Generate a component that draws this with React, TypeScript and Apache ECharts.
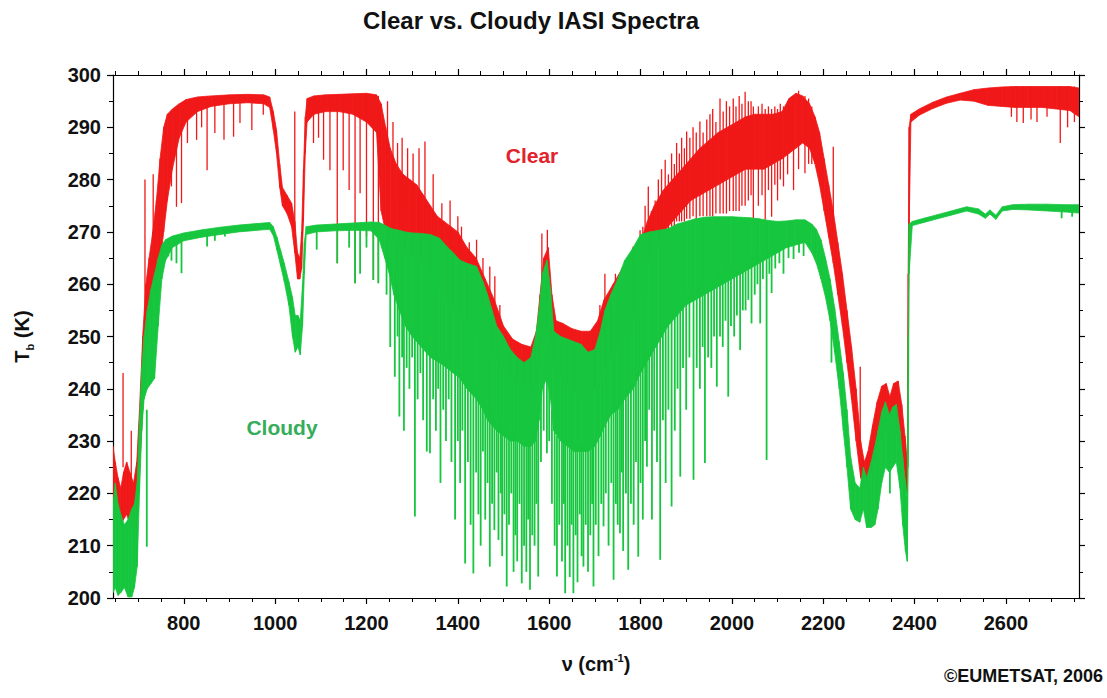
import React, { useEffect, useRef } from "react";
import * as echarts from "echarts";

// ---------- data ----------
const xMajorTicks = [800, 1000, 1200, 1400, 1600, 1800, 2000, 2200, 2400, 2600];
const xMinorTicks = [650, 700, 750, 850, 900, 950, 1050, 1100, 1150, 1250, 1300, 1350, 1450, 1500, 1550, 1650, 1700, 1750, 1850, 1900, 1950, 2050, 2100, 2150, 2250, 2300, 2350, 2450, 2500, 2550, 2650, 2700, 2750];

// Dense part of each spectrum: [wavenumber, upper Tb, lower Tb]
const clearBand: [number, number, number][] = [
  [645, 229, 216], [650, 226, 215], [656, 223, 216], [662, 221, 214], [668, 224, 215], [675, 226, 216],
  [682, 224, 214], [690, 222, 213], [697, 226, 215], [703, 236, 224], [710, 250, 236], [717, 260, 246],
  [724, 265, 252], [732, 270, 256], [740, 276, 260], [748, 284, 264], [756, 290, 270], [764, 292.5, 276],
  [775, 293.5, 282], [790, 294.5, 288], [805, 295.3, 291], [830, 295.8, 293], [860, 296, 294], [900, 296.2, 294.5],
  [940, 296.3, 294.7], [975, 296.2, 294.5], [988, 295.8, 293.8], [996, 293, 289.5], [1003, 289.5, 285],
  [1010, 283, 278.5], [1016, 278.5, 275], [1026, 277, 273.5], [1036, 275.5, 271], [1043, 272, 266],
  [1049, 266, 261], [1054, 265, 261], [1058, 270, 263], [1062, 282, 272], [1066, 292, 285], [1070, 295.5, 291],
  [1085, 296, 292.5], [1110, 296.2, 293], [1140, 296.3, 293], [1170, 296.4, 292.5], [1200, 296.5, 291],
  [1222, 296.2, 289], [1232, 294.5, 274], [1242, 290, 270], [1252, 286, 269], [1265, 283, 268], [1280, 281, 267],
  [1295, 280, 266], [1310, 279, 265], [1325, 277, 264], [1340, 275, 262], [1355, 273, 260], [1370, 272, 258],
  [1385, 271, 256], [1400, 270, 255], [1420, 267, 253], [1440, 265, 251], [1460, 261, 249], [1480, 257, 246],
  [1500, 252, 244], [1520, 249.5, 242], [1540, 248.5, 241], [1560, 248, 240], [1572, 251, 242], [1580, 258, 246],
  [1588, 265, 250], [1598, 267, 252], [1606, 258, 247], [1615, 253, 243], [1630, 252.5, 242], [1650, 251.5, 240],
  [1670, 251, 239], [1690, 251, 239], [1706, 253, 241], [1720, 257, 244], [1740, 260, 247], [1760, 263, 250],
  [1780, 265.5, 253], [1800, 268, 259], [1815, 272, 264], [1830, 275, 267], [1850, 278, 270], [1870, 280, 272],
  [1890, 282, 274], [1910, 284, 276], [1930, 286, 277], [1950, 287.5, 278], [1970, 289, 279], [1990, 290, 280],
  [2010, 291, 281], [2030, 292, 282], [2050, 292.5, 282], [2070, 292.5, 282], [2090, 292.5, 283], [2110, 293, 284],
  [2125, 295.5, 285], [2140, 296.5, 286], [2155, 296, 287], [2170, 294.5, 286], [2182, 292, 283], [2192, 289, 279],
  [2202, 284, 274], [2212, 279, 269], [2222, 274, 264], [2232, 268, 258], [2242, 262, 252], [2252, 255, 245],
  [2262, 248, 238], [2272, 240, 230], [2282, 230, 223], [2290, 226, 221], [2298, 228, 222], [2308, 233, 225],
  [2318, 237.5, 228], [2328, 240.5, 231], [2338, 241, 232], [2346, 238.5, 231], [2354, 241, 232], [2364, 241.5, 231],
  [2372, 237, 228], [2379, 231, 223], [2384, 226, 220], [2386, 262, 240], [2388, 290, 270], [2392, 292.5, 291],
  [2410, 293.5, 292.3], [2440, 294.8, 293.6], [2470, 295.8, 294.6], [2500, 296.5, 295.2], [2530, 297.2, 295],
  [2560, 297.5, 294.2], [2590, 297.7, 294], [2620, 297.8, 293.8], [2650, 297.8, 293.8], [2680, 297.8, 293.8],
  [2710, 297.8, 293.5], [2740, 297.8, 293.2], [2760, 297.5, 292],
];

// Individual absorption lines / peaks: [wavenumber, high Tb, low Tb]
const clearLines: [number, number, number][] = [
  [667, 243, 225], [685, 232, 222], [715, 280, 250], [733, 281, 262],
  [773, 292, 278.7], [784, 293, 274.8], [795, 294, 275.5], [808, 295, 287], [828, 295.5, 287.6], [839, 295.5, 290],
  [851, 296, 281.8], [868, 296, 288.9], [888, 296, 287.6], [909, 296, 288.2], [923, 296, 290.8], [949, 296, 289.5],
  [974, 296, 292.4], [1043, 293, 270],
  [1084, 296, 287], [1095, 296, 288], [1106, 296, 283.8], [1120, 296, 281.8], [1136, 296, 264], [1149, 296, 281.8],
  [1162, 296, 278], [1175, 296, 260.2], [1186, 296, 277.4], [1200, 296, 269.1], [1215, 296, 260.8], [1226, 296, 260.2],
  [1246, 295, 282], [1258, 291, 278], [1268, 287, 276], [1278, 288, 274], [1290, 286, 272], [1302, 285, 270],
  [1315, 286, 270], [1328, 287.3, 268], [1346, 281, 266], [1365, 275.5, 262], [1383, 276, 262], [1400, 273, 260],
  [1408, 271, 258], [1425, 268, 255], [1441, 268.5, 255], [1455, 265, 252], [1470, 263.4, 250], [1481, 261.5, 248],
  [1492, 256, 246], [1584, 269.7, 255], [1596, 270.4, 255],
  [1711, 256, 245], [1722, 262, 248], [1745, 262, 250], [1755, 261.5, 250], [1772, 265, 253], [1784, 267.2, 255],
  [1792, 266, 258], [1799, 270.3, 260], [1805, 271, 262], [1810, 275, 265], [1817, 278.7, 266], [1824, 274, 266],
  [1832, 276, 268], [1839, 280, 268], [1846, 282, 269], [1854, 283.8, 270], [1861, 281, 270], [1868, 285, 271],
  [1874, 283, 271], [1879, 287, 272], [1885, 285, 272], [1890, 288, 272], [1896, 286, 272], [1901, 289.2, 272.5],
  [1908, 288, 272.5], [1915, 290, 273], [1922, 289, 272.5], [1930, 291.1, 273], [1937, 289, 273], [1945, 291.5, 273],
  [1952, 292.5, 273], [1958, 293.5, 273], [1965, 291, 273.5], [1974, 295.5, 273.5], [1981, 293, 273.5],
  [1988, 295, 273.5], [1995, 294, 274], [2003, 295.5, 274], [2009, 294, 274], [2016, 296, 274], [2022, 294.5, 275],
  [2029, 296.8, 275], [2036, 295, 276], [2042, 295, 277],
  [2047, 294, 272.3], [2058, 294, 275], [2066, 294.5, 277], [2073, 293.5, 272.3], [2080, 294, 278],
  [2087, 293.5, 272.9], [2094, 294, 279], [2100, 293.5, 276], [2106, 294.5, 280], [2113, 294, 278.7],
  [2122, 295, 281], [2135, 296, 278], [2146, 297, 282], [2160, 296, 281.2], [2168, 295.5, 283], [2175, 294, 283],
  [2222, 286.3, 270], [2281, 244.2, 230],
  [2612, 297.8, 292], [2624, 297.8, 291], [2638, 297.8, 290.8], [2655, 297.8, 291.5], [2668, 297.8, 291],
  [2690, 297.8, 292], [2719, 297.8, 287], [2735, 297.8, 290], [2750, 297.8, 291],
];

const cloudyBand: [number, number, number][] = [
  [645, 218, 201], [650, 222, 202], [656, 218, 200.5], [662, 216, 201], [670, 214, 202], [678, 215, 200.2],
  [686, 217, 200.2], [692, 218, 202], [698, 222, 206], [703, 234, 220], [708, 244, 232], [713, 250, 238],
  [720, 255, 240], [728, 259, 241], [736, 262, 242], [744, 265, 252], [752, 267.5, 261], [760, 268.5, 264.5],
  [775, 269.2, 267], [800, 269.8, 268.3], [840, 270.4, 269], [880, 270.9, 269.5], [920, 271.3, 270],
  [960, 271.6, 270.3], [988, 271.8, 270.5], [996, 271, 269.3], [1004, 269, 266.5], [1012, 266.5, 263.5],
  [1020, 264, 260.5], [1030, 260.5, 256], [1038, 257.5, 250], [1044, 254, 247], [1050, 254, 248], [1055, 253, 246.5],
  [1060, 260, 252], [1064, 268, 262], [1068, 271, 269.5], [1090, 271.3, 270], [1130, 271.5, 270.2],
  [1170, 271.7, 270.3], [1210, 271.9, 270.2], [1228, 271.8, 268.5], [1240, 271.3, 265], [1250, 270.8, 262],
  [1260, 270.5, 258], [1272, 270.3, 255], [1285, 270, 252], [1300, 269.8, 250], [1320, 269.7, 248],
  [1340, 269.5, 246], [1360, 268.8, 245], [1376, 267.2, 244], [1390, 266, 243], [1405, 264.6, 242], [1420, 264, 240],
  [1441, 263.4, 238], [1455, 260.5, 236], [1465, 258, 234], [1475, 255, 233], [1485, 252, 232], [1500, 250, 231],
  [1515, 247.5, 230], [1530, 246, 230], [1545, 245, 229], [1560, 246, 229], [1570, 250, 230], [1578, 255, 234],
  [1585, 262, 240], [1595, 264.6, 242], [1603, 259, 238], [1610, 251, 232], [1625, 250, 230], [1640, 249.5, 229],
  [1655, 249, 228], [1670, 248.5, 228], [1685, 247, 228], [1700, 247.5, 229], [1712, 251, 231], [1722, 255, 233],
  [1735, 258, 235], [1750, 261, 236], [1765, 264.5, 238], [1784, 267, 240], [1800, 269.5, 243], [1820, 270, 246],
  [1840, 270.3, 249], [1860, 270.6, 252], [1880, 271.5, 254], [1900, 272, 256], [1920, 272.5, 257],
  [1940, 272.8, 258], [1960, 272.9, 259], [1980, 272.9, 260], [2000, 272.9, 261], [2020, 272.8, 262],
  [2040, 272.7, 263], [2060, 272.5, 264], [2080, 272.2, 265], [2100, 272, 266], [2120, 272.1, 267],
  [2140, 272.3, 267.5], [2160, 272.3, 268], [2175, 271.5, 266], [2185, 270.5, 264], [2195, 268.5, 261],
  [2205, 265, 257.5], [2215, 261, 253], [2225, 255.5, 247], [2235, 249, 240], [2244, 243, 232], [2252, 236, 225],
  [2260, 227, 217], [2270, 222, 215], [2280, 221, 214.5], [2288, 225, 217], [2295, 223, 213.5], [2305, 226, 213.5],
  [2313, 229, 214], [2320, 232, 217], [2328, 235.5, 222], [2336, 237.5, 225], [2345, 235, 224], [2352, 236.5, 225],
  [2360, 237, 226], [2368, 232, 221], [2374, 227, 214], [2380, 222, 209], [2384, 219, 207], [2386, 250, 225],
  [2388, 271.5, 262], [2395, 272, 271.2], [2420, 272.6, 271.8], [2450, 273.3, 272.5], [2480, 274, 273.2],
  [2514, 274.8, 274], [2540, 274.4, 273.4], [2555, 273.4, 272.6], [2565, 274.2, 273.4], [2578, 273.2, 272.4],
  [2592, 274.8, 274], [2615, 275.2, 274.3], [2650, 275.3, 274.2], [2690, 275.3, 274], [2730, 275.2, 273.8],
  [2760, 275.2, 273.6],
];

const cloudyLines: [number, number, number][] = [
  [719, 236, 209.8], [766, 268.5, 265.3], [773, 269, 264.5], [784, 269.2, 264], [795, 269.5, 262.1],
  [851, 270.3, 267.2], [868, 270.5, 268.3], [890, 270.8, 269.1],
  [1091, 271.3, 266.6], [1136, 271.5, 264], [1162, 271.6, 267], [1175, 271.7, 260.2], [1186, 271.7, 262],
  [1200, 271.8, 267], [1215, 271.9, 260.8], [1226, 271.8, 260.2],
  [1244, 268, 258], [1252, 265, 248], [1262, 262, 242.3], [1268, 260, 250], [1272, 258, 234.7], [1278, 256, 246],
  [1282, 255, 232], [1288, 254, 244], [1294, 253, 240], [1300, 252, 246], [1306, 252, 215.6], [1312, 251, 238],
  [1318, 250, 243], [1324, 250, 234], [1332, 249, 228], [1339, 248, 227.7], [1346, 248, 238], [1352, 247, 232],
  [1357, 247, 240], [1362, 247, 222], [1368, 246, 236], [1374, 246, 230], [1380, 246, 238], [1386, 245, 226],
  [1394, 245, 215],
  [1400, 244, 230], [1405, 244, 222], [1410, 243, 232], [1416, 242, 206.6], [1422, 242, 226], [1428, 241, 214],
  [1434, 240, 204.7], [1440, 240, 224], [1445, 239, 216], [1450, 238, 210], [1455, 238, 228], [1460, 237, 215],
  [1465, 236, 222], [1470, 236, 206], [1475, 235, 218], [1480, 234, 213], [1485, 234, 224], [1489, 233, 211.1],
  [1494, 233, 220], [1497, 233, 208], [1502, 232, 216], [1507, 232, 202.2], [1512, 232, 214], [1517, 231, 220],
  [1522, 231, 205], [1526, 231, 212], [1530, 231, 207], [1535, 230, 218], [1540, 230, 202.8], [1545, 230, 210],
  [1550, 230, 205], [1554, 230, 215], [1558, 230, 201.6], [1563, 230, 212], [1568, 231, 210], [1572, 232, 218],
  [1576, 234, 204.1],
  [1582, 240, 226], [1588, 243, 232], [1595, 245, 227.7], [1600, 242, 230], [1606, 236, 218],
  [1612, 232, 210], [1617, 231, 204.1], [1622, 231, 214], [1628, 230, 207], [1632, 230, 218], [1635, 230, 200.9],
  [1640, 230, 210], [1645, 229, 204], [1649, 229, 214], [1653, 229, 200.9], [1658, 229, 212], [1662, 229, 203],
  [1667, 229, 216], [1671, 229, 208], [1675, 229, 206], [1680, 229, 214], [1685, 229, 205], [1690, 229, 212],
  [1694, 229, 218], [1697, 230, 202.2], [1702, 230, 214], [1708, 231, 208],
  [1714, 232, 218], [1719, 233, 213.7], [1724, 234, 220], [1730, 235, 210], [1736, 236, 222], [1741, 236, 203.5],
  [1746, 237, 218], [1750, 237, 214], [1755, 238, 212.4], [1759, 238, 224], [1762, 238, 209], [1768, 239, 220],
  [1773, 240, 205.4], [1779, 240, 218], [1785, 241, 214], [1790, 242, 226], [1795, 243, 207.9], [1800, 244, 222],
  [1805, 245, 215], [1810, 246, 230], [1814, 247, 225.1], [1819, 247, 236], [1825, 248, 215], [1830, 249, 232],
  [1836, 250, 226], [1843, 251, 207.3], [1849, 252, 234], [1855, 253, 222], [1861, 253, 236], [1868, 254, 217.5],
  [1875, 255, 232], [1881, 256, 240], [1887, 257, 223.2],
  [1893, 257, 244], [1900, 258, 236], [1907, 258, 246], [1916, 259, 222.6], [1923, 259, 244], [1930, 260, 240],
  [1936, 260, 248], [1941, 260, 225.8], [1948, 261, 246], [1955, 261, 244], [1961, 261, 250], [1967, 262, 240.4],
  [1974, 262, 250], [1980, 262, 248], [1986, 262, 253], [1992, 263, 238.5], [1998, 263, 252], [2005, 263, 250],
  [2011, 263, 254], [2018, 263, 247.4], [2024, 264, 255], [2030, 264, 255], [2036, 264, 257], [2043, 265, 252.5],
  [2050, 265, 258], [2056, 266, 260], [2062, 266, 252.5], [2068, 266, 261], [2076, 267, 226.4], [2082, 267, 262],
  [2087, 268, 258.3], [2095, 268, 263], [2104, 268, 264], [2113, 269, 262], [2124, 269, 265], [2135, 270, 264.8],
  [2147, 270, 266], [2157, 270, 265.4],
  [2218, 255, 245], [2346, 230, 220], [2722, 274, 272.6], [2745, 274, 272.9],
];

// ---------- styling ----------
const RED = "#f01818";
const GREEN = "#16c63e";
const FONT = "'Liberation Sans', Arial, Helvetica, sans-serif";

function bandSeries(name: string, band: [number, number, number][], color: string, z: number) {
  return {
    type: "custom",
    name,
    xAxisIndex: 0,
    yAxisIndex: 0,
    clip: true,
    silent: true,
    z,
    data: band,
    encode: { x: 0, y: [1, 2] },
    renderItem: (params: any, api: any) => {
      const i = params.dataIndex;
      if (i >= band.length - 1) return null;
      const a = band[i];
      const b = band[i + 1];
      const pts = [
        api.coord([a[0], a[1]]),
        api.coord([b[0], b[1]]),
        api.coord([b[0], b[2]]),
        api.coord([a[0], a[2]]),
      ];
      return {
        type: "polygon",
        shape: { points: pts },
        style: { fill: color, stroke: color, lineWidth: 0.8 },
      };
    },
  };
}

function linesSeries(name: string, lines: [number, number, number][], color: string, width: number, z: number) {
  return {
    type: "custom",
    name,
    xAxisIndex: 0,
    yAxisIndex: 0,
    clip: true,
    silent: true,
    z,
    data: lines,
    encode: { x: 0, y: [1, 2] },
    renderItem: (params: any, api: any) => {
      const p1 = api.coord([api.value(0), api.value(1)]);
      const p2 = api.coord([api.value(0), api.value(2)]);
      return {
        type: "line",
        shape: { x1: p1[0], y1: p1[1], x2: p2[0], y2: p2[1] },
        style: { stroke: color, lineWidth: width },
      };
    },
  };
}

const axisLineStyle = { color: "#000", width: 1.2 };
const labelStyle = { fontSize: 20, fontWeight: "bold" as const, fontFamily: FONT, color: "#111" };
const plainNumber = (v: number) => String(v);

const baseX = { type: "value", min: 645, max: 2760, splitLine: { show: false }, gridIndex: 0 };

const option: any = {
  animation: false,
  backgroundColor: "#fff",
  grid: { left: 113, right: 28, top: 75, bottom: 100, show: false },
  xAxis: [
    {
      ...baseX,
      position: "bottom",
      axisLine: { show: true, onZero: false, lineStyle: axisLineStyle },
      axisTick: { show: true, length: 6, customValues: xMajorTicks, lineStyle: { color: "#000", width: 1.2 } },
      axisLabel: { ...labelStyle, margin: 15, customValues: xMajorTicks, formatter: plainNumber },
      name: "{t|\u03bd (cm}{s|-1}{t|)}",
      nameLocation: "middle",
      nameGap: 54,
      nameTextStyle: {
        rich: {
          t: { fontSize: 20, fontWeight: "bold", fontFamily: FONT, color: "#111", lineHeight: 24 },
          s: { fontSize: 11, fontWeight: "bold", fontFamily: FONT, color: "#111", verticalAlign: "top", lineHeight: 24 },
        },
      },
    },
    {
      ...baseX,
      position: "bottom",
      axisLine: { show: false },
      axisTick: { show: true, length: 4, customValues: xMinorTicks, lineStyle: { color: "#000", width: 1 } },
      axisLabel: { show: false },
    },
    {
      ...baseX,
      position: "top",
      axisLine: { show: true, onZero: false, lineStyle: axisLineStyle },
      axisTick: { show: true, length: 6, customValues: xMajorTicks, lineStyle: { color: "#000", width: 1.2 } },
      axisLabel: { show: false },
    },
    {
      ...baseX,
      position: "top",
      axisLine: { show: false },
      axisTick: { show: true, length: 4, customValues: xMinorTicks, lineStyle: { color: "#000", width: 1 } },
      axisLabel: { show: false },
    },
  ],
  yAxis: [
    {
      type: "value",
      min: 200,
      max: 300,
      interval: 10,
      position: "left",
      axisLine: { show: true, onZero: false, lineStyle: axisLineStyle },
      axisTick: { show: true, length: 6, lineStyle: { color: "#000", width: 1.2 } },
      minorTick: { show: true, splitNumber: 2, length: 4, lineStyle: { color: "#000", width: 1 } },
      axisLabel: { ...labelStyle, margin: 12, formatter: plainNumber },
      splitLine: { show: false },
      name: "{t|T}{s|b}{t| (K)}",
      nameLocation: "middle",
      nameRotate: 90,
      nameGap: 78,
      nameTextStyle: {
        rich: {
          t: { fontSize: 20, fontWeight: "bold", fontFamily: FONT, color: "#111", lineHeight: 26 },
          s: { fontSize: 11, fontWeight: "bold", fontFamily: FONT, color: "#111", verticalAlign: "bottom", lineHeight: 26 },
        },
      },
    },
    {
      type: "value",
      min: 200,
      max: 300,
      interval: 10,
      position: "right",
      axisLine: { show: true, onZero: false, lineStyle: axisLineStyle },
      axisTick: { show: true, length: 6, lineStyle: { color: "#000", width: 1.2 } },
      minorTick: { show: true, splitNumber: 2, length: 4, lineStyle: { color: "#000", width: 1 } },
      axisLabel: { show: false },
      splitLine: { show: false },
    },
  ],
  graphic: [
    {
      type: "text",
      x: 531,
      y: 20,
      style: { text: "Clear vs. Cloudy IASI Spectra", fontSize: 24, fontWeight: "bold", fontFamily: FONT, fill: "#111", align: "center", verticalAlign: "middle" },
    },
    {
      type: "text",
      x: 532,
      y: 155,
      z: 100,
      style: { text: "Clear", fontSize: 21, fontWeight: "bold", fontFamily: FONT, fill: "#e2222c", align: "center", verticalAlign: "middle" },
    },
    {
      type: "text",
      x: 282,
      y: 427,
      z: 100,
      style: { text: "Cloudy", fontSize: 21, fontWeight: "bold", fontFamily: FONT, fill: "#35ad5a", align: "center", verticalAlign: "middle" },
    },
    {
      type: "text",
      x: 1103,
      y: 676,
      style: { text: "\u00a9EUMETSAT, 2006", fontSize: 18, fontWeight: "bold", fontFamily: FONT, fill: "#111", align: "right", verticalAlign: "middle" },
    },
  ],
  series: [
    bandSeries("Clear", clearBand, RED, 2),
    linesSeries("Clear lines", clearLines, RED, 1.3, 3),
    bandSeries("Cloudy", cloudyBand, GREEN, 4),
    linesSeries("Cloudy lines", cloudyLines, GREEN, 1.8, 5),
  ],
};

export default function App() {
  const ref = useRef<HTMLDivElement>(null);
  useEffect(() => {
    if (!ref.current) return;
    const chart = echarts.init(ref.current, null, { renderer: "svg" });
    chart.setOption(option);
    return () => chart.dispose();
  }, []);
  return (
    <div
      ref={ref}
      style={{ position: "fixed", left: 0, top: 0, width: 1107, height: 698, background: "#fff" }}
    />
  );
}
